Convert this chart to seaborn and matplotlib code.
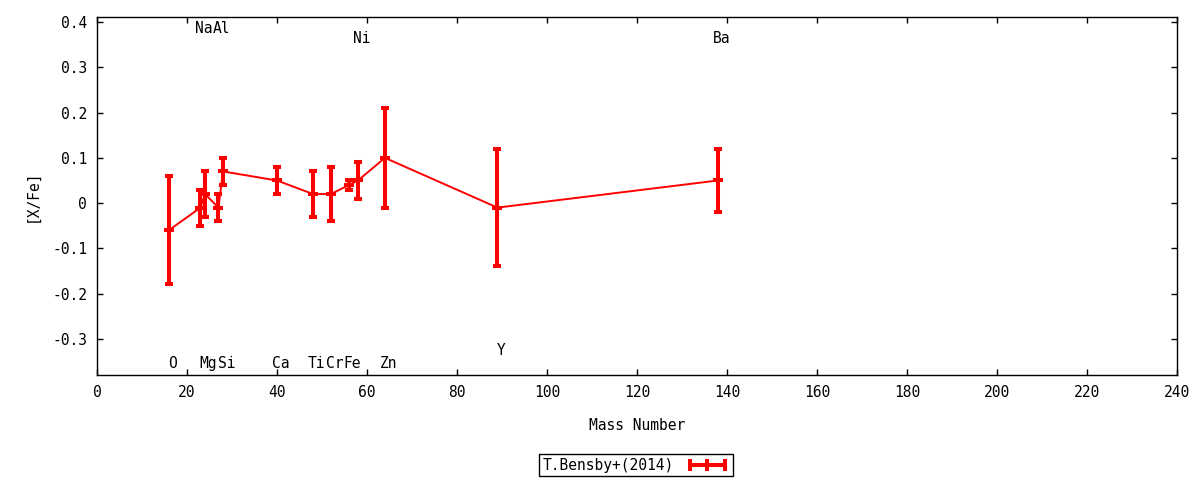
import numpy as np
import pandas as pd
import matplotlib
matplotlib.use('Agg')
import matplotlib.pyplot as plt
from matplotlib.lines import Line2D
from matplotlib.ticker import MultipleLocator, FuncFormatter
import seaborn as sns

# dane
elements = ['O', 'Na', 'Mg', 'Al', 'Si', 'Ca', 'Ti', 'Cr', 'Fe', 'Ni', 'Zn', 'Y', 'Ba']
mass_number = [16, 23, 24, 27, 28, 40, 48, 52, 56, 58, 64, 89, 138]
x_fe = [-0.06, -0.01, 0.02, -0.01, 0.07, 0.05, 0.02, 0.02, 0.04, 0.05, 0.10, -0.01, 0.05]
x_fe_err = [0.12, 0.04, 0.05, 0.03, 0.03, 0.03, 0.05, 0.06, 0.01, 0.04, 0.11, 0.13, 0.07]
label_y = [-0.355, 0.387, -0.355, 0.387, -0.355, -0.355, -0.355, -0.355, -0.355,
           0.365, -0.355, -0.325, 0.365]
series_label = 'T.Bensby+(2014)'

df = pd.DataFrame({'element': elements, 'A': mass_number,
                   'xfe': x_fe, 'err': x_fe_err, 'label_y': label_y})

sns.set_style('ticks')
plt.rcParams['font.family'] = ['DejaVu Sans Mono', 'DejaVu Sans']
plt.rcParams['axes.unicode_minus'] = False
for key in ['text.color', 'axes.labelcolor', 'xtick.color', 'ytick.color']:
    plt.rcParams[key] = 'black'

fig = plt.figure(figsize=(12, 4.8), dpi=100)
ax = fig.add_axes([0.0808, 0.219, 0.9, 0.745])

sns.lineplot(data=df, x='A', y='xfe', sort=False, color='red', linewidth=1.4,
             ax=ax, legend=False)
ax.errorbar(df['A'], df['xfe'], yerr=df['err'], fmt='_', color='red',
            ecolor='red', elinewidth=2.9, capsize=3.2, capthick=2.9,
            markersize=7.5, markeredgewidth=2.9)

for _, row in df.iterrows():
    ax.annotate(row['element'], (row['A'], row['label_y']), xytext=(2.5, 0),
                textcoords='offset points', ha='center', va='center', fontsize=10.5)

ax.set_xlim(0, 240)
ax.set_ylim(-0.38, 0.411)
ax.xaxis.set_major_locator(MultipleLocator(20))
ax.yaxis.set_major_locator(MultipleLocator(0.1))
ax.yaxis.set_major_formatter(FuncFormatter(lambda v, p: '%g' % round(v, 3)))
ax.tick_params(direction='in', top=True, right=True, length=4, width=1,
               labelsize=10.5, pad=7)
for s in ax.spines.values():
    s.set_linewidth(1)
    s.set_color('black')

ax.set_xlabel('Mass Number', fontsize=10.5, labelpad=13)
ax.set_ylabel('[X/Fe]', fontsize=10.5, labelpad=9)

# próbka legendy w stylu gnuplota: pozioma linia z pionowymi kreskami
handle = Line2D([], [], color='red', linewidth=2.9, marker='|', markersize=8,
                markeredgewidth=2.9)
leg = fig.legend([handle], [series_label], loc='center', bbox_to_anchor=(0.530, 0.031),
                 markerfirst=False, fancybox=False, framealpha=1, edgecolor='black',
                 fontsize=10.5, handlelength=3.0, borderpad=0.25, handletextpad=0.8,
                 numpoints=3)
leg.get_frame().set_linewidth(1)

fig.savefig('out.png', dpi=100)
